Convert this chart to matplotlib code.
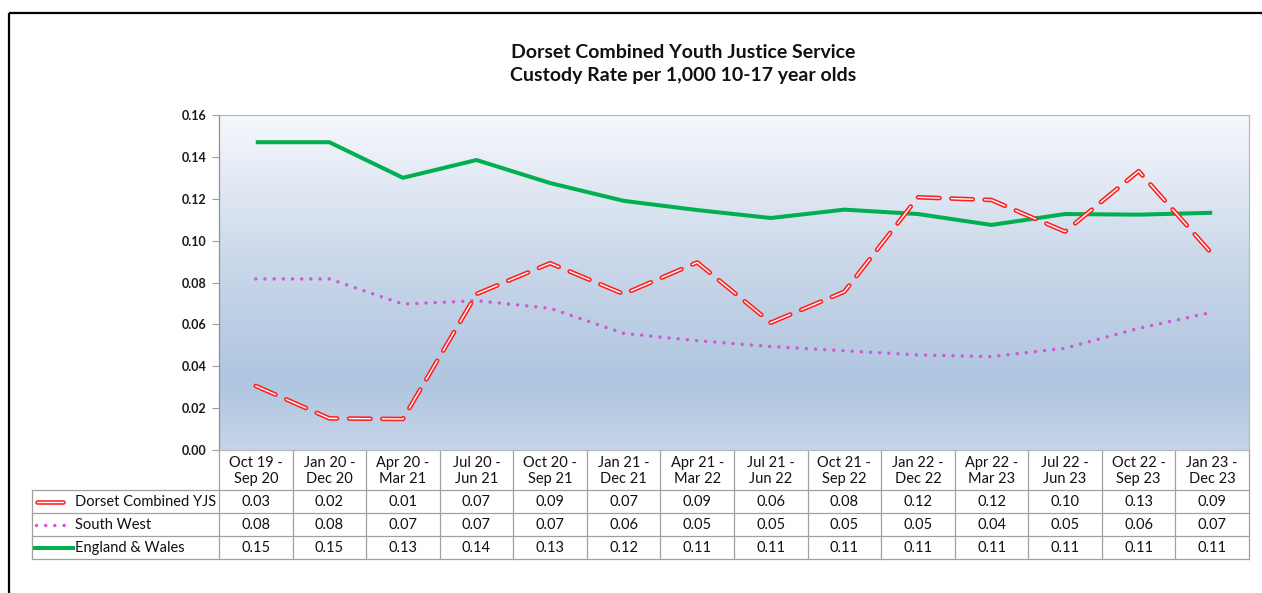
import numpy as np
import matplotlib
matplotlib.use("Agg")
import matplotlib.pyplot as plt
from matplotlib.colors import LinearSegmentedColormap
from matplotlib.lines import Line2D
from matplotlib.patches import Rectangle
from matplotlib.transforms import blended_transform_factory

plt.rcParams['font.family'] = ['Lato', 'DejaVu Sans']
plt.rcParams['lines.scale_dashes'] = False

# ---------------- data ----------------
title_lines = ["Dorset Combined Youth Justice Service",
               "Custody Rate per 1,000 10-17 year olds"]
categories = ["Oct 19 -\nSep 20", "Jan 20 -\nDec 20", "Apr 20 -\nMar 21", "Jul 20 -\nJun 21",
              "Oct 20 -\nSep 21", "Jan 21 -\nDec 21", "Apr 21 -\nMar 22", "Jul 21 -\nJun 22",
              "Oct 21 -\nSep 22", "Jan 22 -\nDec 22", "Apr 22 -\nMar 23", "Jul 22 -\nJun 23",
              "Oct 22 -\nSep 23", "Jan 23 -\nDec 23"]
series_names = ["Dorset Combined YJS", "South West", "England & Wales"]
dorset = [0.0306, 0.0151, 0.0148, 0.0745, 0.0892, 0.0745, 0.0896, 0.0608,
          0.0756, 0.1207, 0.1194, 0.1043, 0.1332, 0.0936]
south_west = [0.0817, 0.0817, 0.0697, 0.0713, 0.0677, 0.0557, 0.0522, 0.0494,
              0.0474, 0.0454, 0.0446, 0.0486, 0.0581, 0.0658]
england_wales = [0.147, 0.147, 0.130, 0.1385, 0.1275, 0.119, 0.1146, 0.1108,
                 0.1148, 0.1127, 0.1075, 0.1127, 0.1124, 0.1133]
y_ticks = [0.00, 0.02, 0.04, 0.06, 0.08, 0.10, 0.12, 0.14, 0.16]

W, H = 1262, 593
fig = plt.figure(figsize=(W / 100, H / 100), dpi=100)
fig.patch.set_facecolor('white')

# overlay in pixel coordinates
ov = fig.add_axes([0, 0, 1, 1], zorder=0)
ov.set_xlim(0, W)
ov.set_ylim(H, 0)
ov.axis('off')
ov.patch.set_alpha(0)

# outer frame
ov.add_patch(Rectangle((9, 12.5), 1400, 700, fill=False, edgecolor='black', lw=1.6))

# plot area
L, R, T, B = 219, 1249, 115, 450
ax = fig.add_axes([L / W, 1 - B / H, (R - L) / W, (B - T) / H], zorder=2)
n = len(categories)
x = np.arange(n)

# gradient background
cmap = LinearSegmentedColormap.from_list(
    'bg', [(0.0, '#c6d5e8'), (0.2, '#afc5e0'), (0.55, '#c9d7e9'), (1.0, '#f6f8fc')])
grad = np.linspace(0, 1, 256).reshape(-1, 1)
ax.imshow(grad, cmap=cmap, aspect='auto', origin='lower',
          extent=[0, 1, 0, 1], transform=ax.transAxes, zorder=0)
ax.set_xlim(-0.5, n - 0.5)
ax.set_ylim(0, 0.16)

# lines
ax.plot(x, england_wales, color='#00b050', lw=2.9, solid_joinstyle='round',
        solid_capstyle='butt', zorder=3)
ax.plot(x, south_west, color='#d058d0', lw=2.5, linestyle=(0, (0.01, 6.6)),
        dash_capstyle='round', zorder=3)
dash = (0, (15.5, 8.5))
ax.plot(x, dorset, color='#ff2020', lw=3.3, linestyle=dash,
        dash_capstyle='round', dash_joinstyle='round', zorder=4)
ax.plot(x, dorset, color='white', lw=1.0, linestyle=dash,
        dash_capstyle='round', dash_joinstyle='round', zorder=5)

# axes styling
ax.set_xticks([])
ax.set_yticks(y_ticks)
ax.set_yticklabels([f"{v:.2f}" for v in y_ticks], fontsize=9, fontweight='bold',
                   color='#1a1a1a')
ax.tick_params(axis='y', direction='out', length=5, width=0.8, color='#a0a0a0', pad=4)
for s in ax.spines.values():
    s.set_color('#b8b8b8')
    s.set_linewidth(0.9)
ax.spines['left'].set_color('#909090')

# ---------------- data table ----------------
bt = blended_transform_factory(ax.transData, ov.transData)
grid_c = '#a0a0a0'
row_tops = [450, 490, 513, 536, 559]
tbl_left = 32
fs = 10.5

for i in range(n + 1):
    ov.add_line(Line2D([i - 0.5, i - 0.5], [row_tops[0], row_tops[-1]],
                       transform=bt, color=grid_c, lw=0.9))
for yv in row_tops[1:]:
    ov.add_line(Line2D([tbl_left, R], [yv, yv], color=grid_c, lw=0.9))
ov.add_line(Line2D([tbl_left, tbl_left], [row_tops[1], row_tops[-1]], color=grid_c, lw=0.9))

for i, c in enumerate(categories):
    ov.text(i, (row_tops[0] + row_tops[1]) / 2 + 1, c, transform=bt, ha='center',
            va='center', fontsize=fs, color='#111111', linespacing=1.2)

all_series = [dorset, south_west, england_wales]
for r, vals in enumerate(all_series):
    yc = (row_tops[r + 1] + row_tops[r + 2]) / 2 + 0.5
    for i, v in enumerate(vals):
        ov.text(i, yc, f"{v:.2f}", transform=bt, ha='center', va='center',
                fontsize=fs, color='#111111')
    ov.text(75, yc, series_names[r], ha='left', va='center', fontsize=fs,
            color='#111111')

# legend keys
y0 = (row_tops[1] + row_tops[2]) / 2
ov.add_line(Line2D([37, 63], [y0, y0], color='#ff2020', lw=3.3, solid_capstyle='round'))
ov.add_line(Line2D([37, 63], [y0, y0], color='white', lw=1.0, solid_capstyle='round'))
y1 = (row_tops[2] + row_tops[3]) / 2
ov.add_line(Line2D([36, 70], [y1, y1], color='#d058d0', lw=2.5,
                   linestyle=(0, (0.01, 6.6)), dash_capstyle='round'))
y2 = (row_tops[3] + row_tops[4]) / 2
ov.add_line(Line2D([35, 73], [y2, y2], color='#00b050', lw=2.9))

# title
ov.text(683, 52, title_lines[0], ha='center', va='center', fontsize=14,
        fontweight='bold', color='#111111')
ov.text(683, 76, title_lines[1], ha='center', va='center', fontsize=14,
        fontweight='bold', color='#111111')

fig.savefig('out.png', dpi=100, facecolor='white')
